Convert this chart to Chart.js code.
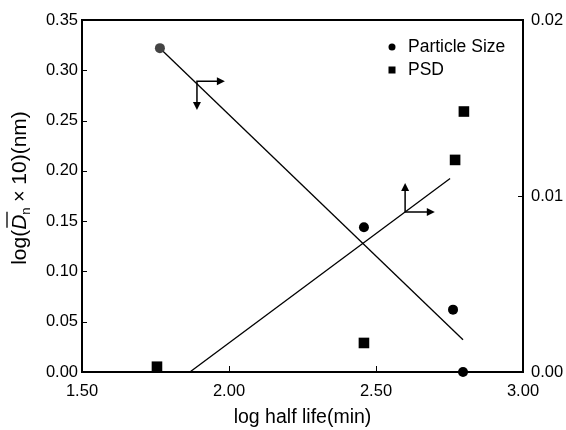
<!DOCTYPE html>
<html lang="en">

<head>
    <meta charset="UTF-8">
    <title>Particle size and PSD vs log half life</title>
    <script src="https://cdn.jsdelivr.net/npm/chart.js"></script>
    <style>
        body {
            margin: 0;
            background: #fff;
        }

        #wrap {
            width: 566px;
            height: 430px;
        }
    </style>
</head>

<body>
    <div id="wrap"><canvas id="chart" width="566" height="430"></canvas></div>

    <script>
        // data
        const sizeX = [1.765, 2.459, 2.762, 2.796];
        const sizeY = [0.322, 0.144, 0.062, 0.0];
        const psdX = [1.755, 2.459, 2.769, 2.799];
        const psdY = [0.0003, 0.00165, 0.01205, 0.0148];

        // fitted lines
        const sizeLineX = [1.765, 2.796];
        const sizeLineY = [0.322, 0.032];
        const psdLineX = [1.867, 2.752];
        const psdLineY = [0.0, 0.0110];

        // axis arrows (corner, horizontal end, vertical end) in left-axis units
        const arrowSize = { x: 1.891, y: 0.289, toX: 1.986, toY: 0.2605 };
        const arrowPsd = { x: 2.599, y: 0.159, toX: 2.700, toY: 0.188 };

        const xTicks = [1.5, 2.0, 2.5, 3.0];
        const yTicks = [0, 0.05, 0.10, 0.15, 0.20, 0.25, 0.30, 0.35];
        const y2Ticks = [0, 0.01, 0.02];

        const FONT = 'Liberation Sans, Arial, sans-serif';

        const pts = (xs, ys) => xs.map((x, i) => ({ x: x, y: ys[i] }));

        function arrowHead(ctx, x, y, dir) {
            // dir: 'right' or 'down' or 'up'
            ctx.beginPath();
            if (dir === 'right') {
                ctx.moveTo(x, y);
                ctx.lineTo(x - 8, y - 4);
                ctx.lineTo(x - 8, y + 4);
            } else if (dir === 'down') {
                ctx.moveTo(x, y);
                ctx.lineTo(x - 4, y - 8);
                ctx.lineTo(x + 4, y - 8);
            } else {
                ctx.moveTo(x, y);
                ctx.lineTo(x - 4, y + 8);
                ctx.lineTo(x + 4, y + 8);
            }
            ctx.closePath();
            ctx.fill();
        }

        const decor = {
            id: 'decor',
            afterDraw(chart) {
                const ctx = chart.ctx;
                const a = chart.chartArea;
                const sx = chart.scales.x, sy = chart.scales.y, sy2 = chart.scales.y2;
                ctx.save();
                ctx.strokeStyle = '#000';
                ctx.fillStyle = '#000';

                // frame
                ctx.lineWidth = 2;
                ctx.strokeRect(a.left, a.top, a.right - a.left, a.bottom - a.top);

                // inward ticks
                ctx.lineWidth = 1;
                ctx.beginPath();
                xTicks.forEach(v => {
                    const px = Math.round(sx.getPixelForValue(v)) + 0.5;
                    ctx.moveTo(px, a.bottom);
                    ctx.lineTo(px, a.bottom - 6);
                });
                yTicks.forEach(v => {
                    const py = Math.round(sy.getPixelForValue(v)) + 0.5;
                    ctx.moveTo(a.left, py);
                    ctx.lineTo(a.left + 5, py);
                });
                y2Ticks.forEach(v => {
                    const py = Math.round(sy2.getPixelForValue(v)) + 0.5;
                    ctx.moveTo(a.right, py);
                    ctx.lineTo(a.right - 5, py);
                });
                ctx.stroke();

                // arrows
                ctx.lineWidth = 1.5;
                [[arrowSize, 'down'], [arrowPsd, 'up']].forEach(([ar, vdir]) => {
                    const cx = sx.getPixelForValue(ar.x), cy = sy.getPixelForValue(ar.y);
                    const hx = sx.getPixelForValue(ar.toX), vy = sy.getPixelForValue(ar.toY);
                    ctx.beginPath();
                    ctx.moveTo(hx - 6, cy);
                    ctx.lineTo(cx, cy);
                    ctx.lineTo(cx, vdir === 'down' ? vy - 6 : vy + 6);
                    ctx.stroke();
                    arrowHead(ctx, hx, cy, 'right');
                    arrowHead(ctx, cx, vy, vdir);
                });

                // legend
                ctx.font = '17.5px ' + FONT;
                ctx.textBaseline = 'middle';
                ctx.textAlign = 'left';
                ctx.beginPath();
                ctx.arc(392, 47, 3.5, 0, Math.PI * 2);
                ctx.fill();
                ctx.fillText('Particle Size', 408, 47);
                ctx.fillRect(388.5, 66.5, 7, 7);
                ctx.fillText('PSD', 408, 70);

                // x title
                ctx.font = '19.5px ' + FONT;
                ctx.textAlign = 'center';
                ctx.fillText('log half life(min)', (a.left + a.right) / 2, 418);

                // y title: log(Dn x 10)(nm), D italic with overbar, n subscript
                ctx.translate(18, 188);
                ctx.rotate(-Math.PI / 2);
                ctx.textAlign = 'left';
                ctx.textBaseline = 'alphabetic';
                const parts = [
                    { t: 'log(', f: '21px ' + FONT, dy: 0 },
                    { t: 'D', f: 'italic 21px ' + FONT, dy: 0, bar: true },
                    { t: 'n', f: '13px ' + FONT, dy: 4 },
                    { t: ' \u00d7 ', f: '20px ' + FONT, dy: 0 },
                    { t: '10)(nm)', f: '21px ' + FONT, dy: 0 }
                ];
                let total = 0;
                parts.forEach(p => { ctx.font = p.f; p.w = ctx.measureText(p.t).width; total += p.w; });
                let x = -total / 2;
                parts.forEach(p => {
                    ctx.font = p.f;
                    ctx.fillText(p.t, x, 8 + p.dy);
                    if (p.bar) {
                        ctx.lineWidth = 1.3;
                        ctx.beginPath();
                        ctx.moveTo(x + 2, -11);
                        ctx.lineTo(x + p.w + 3, -11);
                        ctx.stroke();
                    }
                    x += p.w;
                });
                ctx.restore();
            }
        };

        new Chart(document.getElementById('chart'), {
            type: 'scatter',
            data: {
                datasets: [
                    {
                        label: 'Particle Size',
                        data: pts(sizeX, sizeY),
                        yAxisID: 'y',
                        pointStyle: 'circle',
                        pointRadius: 5,
                        backgroundColor: ['#444', '#000', '#000', '#000'],
                        borderColor: ['#444', '#000', '#000', '#000'],
                        borderWidth: 0,
                        clip: false
                    },
                    {
                        label: 'PSD',
                        data: pts(psdX, psdY),
                        yAxisID: 'y2',
                        pointStyle: 'rect',
                        pointRadius: 7.5,
                        backgroundColor: '#000',
                        borderWidth: 0,
                        clip: false
                    },
                    {
                        label: 'size fit',
                        data: pts(sizeLineX, sizeLineY),
                        yAxisID: 'y',
                        showLine: true,
                        pointRadius: 0,
                        borderColor: '#000',
                        borderWidth: 1.3
                    },
                    {
                        label: 'psd fit',
                        data: pts(psdLineX, psdLineY),
                        yAxisID: 'y2',
                        showLine: true,
                        pointRadius: 0,
                        borderColor: '#000',
                        borderWidth: 1.3
                    }
                ]
            },
            options: {
                responsive: false,
                animation: false,
                layout: { padding: { top: 20, left: 0, right: 0, bottom: 0 } },
                plugins: {
                    legend: { display: false },
                    tooltip: { enabled: false }
                },
                scales: {
                    x: {
                        type: 'linear',
                        min: 1.5,
                        max: 3.0,
                        afterBuildTicks: s => { s.ticks = xTicks.map(v => ({ value: v })); },
                        afterFit: s => { s.height = 58; },
                        grid: { display: false, drawTicks: false },
                        border: { display: false },
                        ticks: {
                            color: '#000',
                            padding: 10,
                            font: { family: FONT, size: 16.5 },
                            maxRotation: 0,
                            callback: v => v.toFixed(2)
                        }
                    },
                    y: {
                        position: 'left',
                        min: 0,
                        max: 0.35,
                        afterBuildTicks: s => { s.ticks = yTicks.map(v => ({ value: v })); },
                        afterFit: s => { s.width = 82; },
                        grid: { display: false, drawTicks: false },
                        border: { display: false },
                        ticks: {
                            color: '#000',
                            padding: 4,
                            font: { family: FONT, size: 16.5 },
                            callback: v => v.toFixed(2)
                        }
                    },
                    y2: {
                        position: 'right',
                        min: 0,
                        max: 0.02,
                        afterBuildTicks: s => { s.ticks = y2Ticks.map(v => ({ value: v })); },
                        afterFit: s => { s.width = 43; },
                        grid: { display: false, drawTicks: false },
                        border: { display: false },
                        ticks: {
                            color: '#000',
                            padding: 8,
                            font: { family: FONT, size: 16.5 },
                            callback: v => v.toFixed(2)
                        }
                    }
                }
            },
            plugins: [decor]
        });
    </script>
</body>

</html>
